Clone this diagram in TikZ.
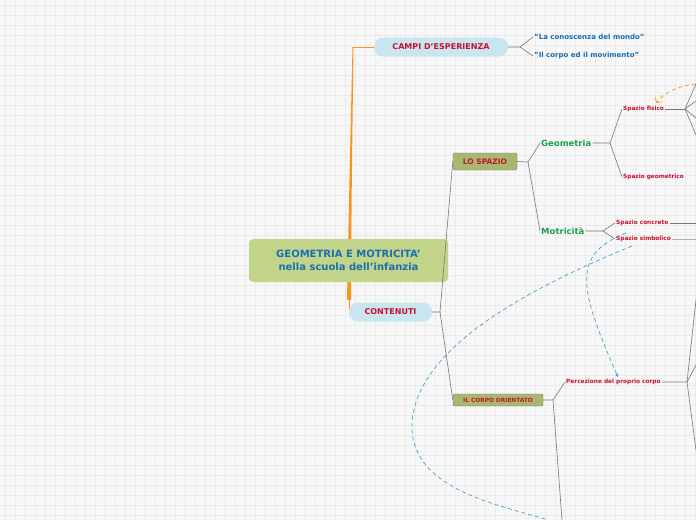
\documentclass[tikz,border=0pt]{standalone}
\usepackage{fontspec}
\setmainfont{DejaVu Sans}
\usetikzlibrary{arrows.meta}
\definecolor{bg}{HTML}{F7F7F7}
\definecolor{gridc}{HTML}{EAEAEA}
\definecolor{crim}{HTML}{C8102E}
\definecolor{blu}{HTML}{1A6FB0}
\definecolor{grn}{HTML}{1AA050}
\definecolor{pill}{HTML}{C9E6F0}
\definecolor{cent}{HTML}{C2D38A}
\definecolor{oliv}{HTML}{A8B870}
\definecolor{orn}{HTML}{F7941D}
\definecolor{dblue}{HTML}{4A9FD0}
\definecolor{ln}{HTML}{777777}
\begin{document}
\begin{tikzpicture}[x=1pt,y=-1pt,
  pillbox/.style={fill=pill,rounded corners=9pt,minimum height=19pt,inner sep=0pt,font=\bfseries\fontsize{8}{9}\selectfont,text=crim},
  olivebox/.style={fill=oliv,draw=ln,rounded corners=2pt,inner sep=0pt,text=crim,font=\bfseries\fontsize{7.5}{9}\selectfont},
  bluetxt/.style={text=blu,font=\bfseries\fontsize{7}{8}\selectfont,anchor=west,inner sep=1pt},
  greentxt/.style={text=grn,font=\bfseries\fontsize{8.5}{10}\selectfont,anchor=west,inner sep=1pt},
  smalltxt/.style={text=crim,font=\bfseries\fontsize{5.8}{7}\selectfont,anchor=west,inner sep=1pt},
  conn/.style={draw=ln,line width=0.6pt},
  dashline/.style={dashed,dash pattern=on 4pt off 3pt,line width=0.7pt}]
\fill[bg] (0,0) rectangle (696,520);
\useasboundingbox (0,0) rectangle (696,520);
\foreach \i in {0,10,...,690} \draw[gridc,line width=0.4pt] (\i+5,0) -- (\i+5,520);
\foreach \j in {0,10,...,510} \draw[gridc,line width=0.4pt] (0,\j+5) -- (696,\j+5);
% orange branch
\fill[orn] (347,300) -- (351,300) .. controls (351.5,200) .. (353.5,47) -- (352.5,47) .. controls (349,200) .. (347,300) -- cycle;
\draw[orn,line width=0.6pt] (352.8,47) -- (374,47);
\draw[orn,line width=0.6pt] (349,300) -- (349,312);
% central
\node[fill=cent,rounded corners=4pt,minimum width=199pt,minimum height=43pt,inner sep=0pt,text=blu,font=\bfseries\fontsize{10}{13}\selectfont,align=center] (c) at (348.5,260.5) {GEOMETRIA E MOTRICITA'\\nella scuola dell'infanzia};
\node[pillbox,minimum width=134pt] (campi) at (441,47) {CAMPI D'ESPERIENZA};
\node[pillbox,minimum width=83pt] (cont) at (390.5,312) {CONTENUTI};
\node[bluetxt] (t1) at (533,37) {"La conoscenza del mondo"};
\node[bluetxt] (t2) at (533,56) {"Il corpo ed il movimento"};
\coordinate (f1) at (520,47);
\draw[conn] (campi.east) -- (f1) -- (t1.west); \draw[conn] (f1) -- (t2.west);
\node[olivebox,minimum width=64pt,minimum height=17pt] (ls) at (485,161.5) {LO SPAZIO};
\node[olivebox,minimum width=90pt,minimum height=12pt,font=\bfseries\fontsize{5.8}{7}\selectfont] (co) at (498,400) {IL CORPO ORIENTATO};
\coordinate (f2) at (440,312);
\draw[conn] (cont.east) -- (f2) -- (ls.west); \draw[conn] (f2) -- (co.west);
\node[greentxt] (geo) at (540,143) {Geometria};
\node[greentxt] (mot) at (540,231) {Motricità};
\coordinate (f3) at (528,162);
\draw[conn] (ls.east) -- (f3) -- (geo.west); \draw[conn] (f3) -- (mot.west);
\node[smalltxt] (sf) at (622,109) {Spazio fisico};
\node[smalltxt] (sg) at (622,177) {Spazio geometrico};
\coordinate (f4) at (610,143);
\draw[conn] (geo.east) -- (f4) -- (sf.west); \draw[conn] (f4) -- (sg.west);
\coordinate (f5) at (685,109);
\draw[conn] (sf.east) -- (f5);
\foreach \yy in {84,101,118,135} \draw[conn] (f5) -- (696,\yy);
\node[smalltxt] (sc) at (615,223) {Spazio concreto};
\node[smalltxt] (ss) at (615,239) {Spazio simbolico};
\coordinate (f6) at (603,231);
\draw[conn] (mot.east) -- (f6) -- (sc.west); \draw[conn] (f6) -- (ss.west);
\draw[conn] (sc.east) -- (696,223);
\draw[conn,draw=gray!60,line width=1pt] (ss.east) -- (696,239);
\node[smalltxt] (pc) at (565,382) {Percezione del proprio corpo};
\coordinate (f7) at (553,400);
\draw[conn] (co.east) -- (f7) -- (pc.west); \draw[conn] (f7) -- (562,520);
\coordinate (f8) at (687,382);
\draw[conn] (pc.east) -- (f8) -- (696,300); \draw[conn] (f8) -- (696,365); \draw[conn] (f8) -- (696,450);
% dashed relations
\draw[orn,dashline,-{Straight Barb[length=4pt]}] (696,84) .. controls (675,86) and (662,95) .. (656,103);
\draw[dblue,dashline,-{Triangle[length=3pt,width=3pt]}] (626,233) .. controls (570,255) and (580,290) .. (618,377);
\draw[dblue,dashline] (632,246) .. controls (500,300) and (410,360) .. (412,430) .. controls (415,490) and (500,505) .. (548,520);
\end{tikzpicture}
\end{document}
